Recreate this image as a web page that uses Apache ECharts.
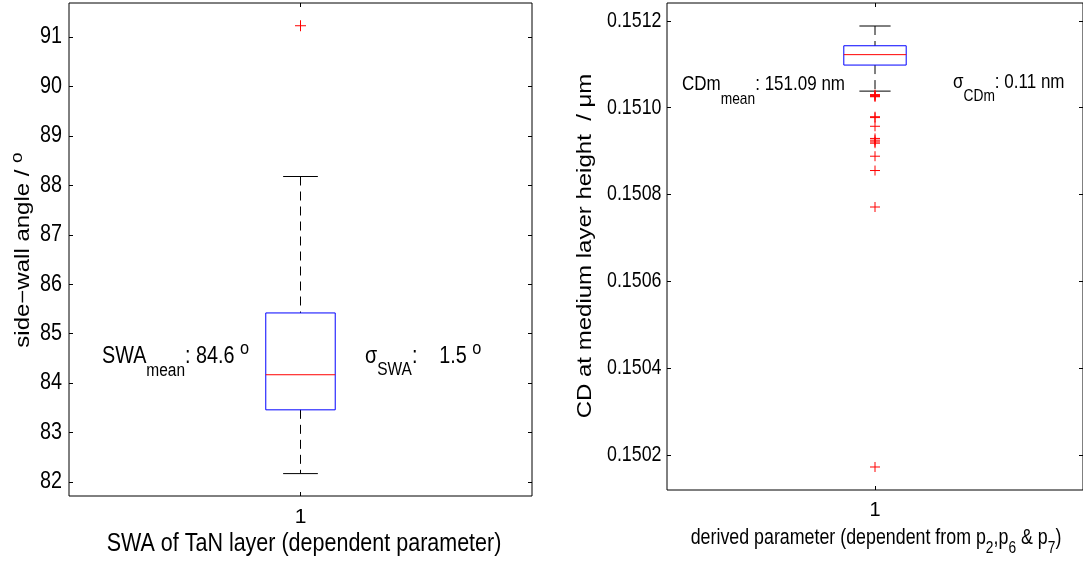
<!DOCTYPE html>
<html>
<head>
<meta charset="utf-8">
<script src="https://cdn.jsdelivr.net/npm/echarts@6/dist/echarts.min.js"></script>
<style>
  html, body { margin: 0; padding: 0; background: #fff; }
  #chart { width: 1083px; height: 565px; }
</style>
</head>
<body>
<div id="chart"></div>
<script>
// ---- Side-wall angle of the TaN layer (degrees) ----
const swaCategories = ['1'];
// lower whisker, Q1, median, Q3, upper whisker
const swaBox = [82.17, 83.46, 84.17, 85.42, 88.18];
const swaOutliers = [91.23];
const swaTicks = [82, 83, 84, 85, 86, 87, 88, 89, 90, 91];
const swaTickLabels = ['82', '83', '84', '85', '86', '87', '88', '89', '90', '91'];
const swaRange = [81.717, 91.69];

// ---- CD at medium layer height (µm) ----
const cdCategories = ['1'];
const cdBox = [0.151038, 0.151098, 0.151122, 0.1511425, 0.151188];
const cdOutliers = [0.151030, 0.151028, 0.151026, 0.151025, 0.150979, 0.150977,
                    0.150957, 0.150929, 0.150925, 0.150921, 0.150918, 0.150888,
                    0.150855, 0.150771, 0.150172];
const cdTicks = [0.1502, 0.1504, 0.1506, 0.1508, 0.1510, 0.1512];
const cdTickLabels = ['0.1502', '0.1504', '0.1506', '0.1508', '0.1510', '0.1512'];
const cdRange = [0.150119, 0.151241];

const FONT = '"Liberation Sans", Arial, sans-serif';
// horizontal squeeze of the lettering in each panel
const SQUEEZE_L = 0.86;
const SQUEEZE_R = 0.81;

const GRID_L = { left: 69, top: 3, width: 463, height: 493 };
const GRID_R = { left: 667, top: 3, width: 418, height: 487 };

const measureCtx = document.createElement('canvas').getContext('2d');
function textWidth(str, size) {
  measureCtx.font = size + 'px ' + FONT;
  return measureCtx.measureText(str).width;
}

// A line of text made of pieces with their own size and vertical offset
// (used for subscripts and raised degree marks).
function textLine(parts, x, y, opts) {
  opts = opts || {};
  let cursor = 0;
  const children = [];
  parts.forEach(function (p) {
    const t = p[0], size = p[1], dy = p[2] || 0;
    children.push({
      type: 'text', x: cursor, y: dy, silent: true,
      style: {
        text: t, fontSize: size, fontFamily: FONT, fill: '#000',
        align: 'left', verticalAlign: 'middle',
        textAlign: 'left', textVerticalAlign: 'middle'
      }
    });
    cursor += textWidth(t, size);
  });
  const shift = opts.align === 'center' ? -cursor / 2 : opts.align === 'right' ? -cursor : 0;
  children.forEach(function (c) { c.x += shift; });
  return {
    type: 'group', x: x, y: y,
    rotation: opts.rotation || 0,
    scaleX: opts.scaleX || 1, scaleY: opts.scaleY || 1,
    silent: true, children: children
  };
}

// Box with dashed whiskers, solid caps, blue box and red median line
function renderBox(params, api) {
  const x = api.value(0);
  const lo = api.coord([x, api.value(1)]);
  const q1 = api.coord([x, api.value(2)]);
  const md = api.coord([x, api.value(3)]);
  const q3 = api.coord([x, api.value(4)]);
  const hi = api.coord([x, api.value(5)]);
  const band = api.size([1, 0])[0];
  const bw = band * 0.15;
  const cw = bw / 2;
  const cx = lo[0];
  const dash = { stroke: '#000', lineWidth: 1, lineDash: [9, 6] };
  const solid = { stroke: '#000', lineWidth: 1 };
  return {
    type: 'group',
    children: [
      { type: 'line', shape: { x1: cx, y1: hi[1], x2: cx, y2: q3[1] }, style: dash },
      { type: 'line', shape: { x1: cx, y1: q1[1], x2: cx, y2: lo[1] }, style: dash },
      { type: 'line', shape: { x1: cx - cw / 2, y1: hi[1], x2: cx + cw / 2, y2: hi[1] }, style: solid },
      { type: 'line', shape: { x1: cx - cw / 2, y1: lo[1], x2: cx + cw / 2, y2: lo[1] }, style: solid },
      { type: 'rect', shape: { x: cx - bw / 2, y: q3[1], width: bw, height: q1[1] - q3[1] },
        style: { fill: 'none', stroke: '#0000ff', lineWidth: 1 } },
      { type: 'line', shape: { x1: cx - bw / 2, y1: md[1], x2: cx + bw / 2, y2: md[1] },
        style: { stroke: '#ff0000', lineWidth: 1 } }
    ]
  };
}

// Outliers drawn as red plus signs
function plusRenderer(size) {
  return function (params, api) {
    const p = api.coord([api.value(0), api.value(1)]);
    const h = size / 2;
    const st = { stroke: '#ff0000', lineWidth: 1 };
    return {
      type: 'group',
      children: [
        { type: 'line', shape: { x1: p[0] - h, y1: p[1], x2: p[0] + h, y2: p[1] }, style: st },
        { type: 'line', shape: { x1: p[0], y1: p[1] - h, x2: p[0], y2: p[1] + h }, style: st }
      ]
    };
  };
}

function catAxis(grid, data, position, labelSize, margin) {
  return {
    gridIndex: grid, type: 'category', data: data, position: position,
    axisLine: { show: false },
    axisTick: { show: true, inside: true, alignWithLabel: true, length: 4, lineStyle: { color: '#000' } },
    axisLabel: { show: position === 'bottom', margin: margin, fontSize: labelSize, fontFamily: FONT, color: '#000' },
    splitLine: { show: false }
  };
}

// Value axis: ticks at the listed values; its labels are drawn as squeezed text below
function valAxis(grid, range, ticks, position) {
  return {
    gridIndex: grid, type: 'value', position: position,
    min: range[0], max: range[1],
    axisLine: { show: false },
    splitLine: { show: false },
    axisTick: { show: true, inside: true, length: 4, customValues: ticks, lineStyle: { color: '#000' } },
    axisLabel: { show: false }
  };
}

const chart = echarts.init(document.getElementById('chart'), null, { renderer: 'canvas' });

chart.setOption({
  animation: false,
  backgroundColor: '#fff',
  grid: [
    Object.assign({ show: true, borderColor: '#000', borderWidth: 1, backgroundColor: '#fff' }, GRID_L),
    Object.assign({ show: true, borderColor: '#000', borderWidth: 1, backgroundColor: '#fff' }, GRID_R)
  ],
  xAxis: [
    catAxis(0, swaCategories, 'bottom', 21, 11),
    catAxis(0, swaCategories, 'top', 21, 11),
    catAxis(1, cdCategories, 'bottom', 20, 10),
    catAxis(1, cdCategories, 'top', 20, 10)
  ],
  yAxis: [
    valAxis(0, swaRange, swaTicks, 'left'),
    valAxis(0, swaRange, swaTicks, 'right'),
    valAxis(1, cdRange, cdTicks, 'left'),
    valAxis(1, cdRange, cdTicks, 'right')
  ],
  series: [
    { type: 'custom', xAxisIndex: 0, yAxisIndex: 0, renderItem: renderBox, silent: true,
      data: [[0].concat(swaBox)], encode: { x: 0, y: [1, 2, 3, 4, 5] } },
    { type: 'custom', xAxisIndex: 0, yAxisIndex: 0, renderItem: plusRenderer(11), silent: true,
      data: swaOutliers.map(function (v) { return [0, v]; }), encode: { x: 0, y: 1 } },
    { type: 'custom', xAxisIndex: 2, yAxisIndex: 2, renderItem: renderBox, silent: true,
      data: [[0].concat(cdBox)], encode: { x: 0, y: [1, 2, 3, 4, 5] } },
    { type: 'custom', xAxisIndex: 2, yAxisIndex: 2, renderItem: plusRenderer(10), silent: true,
      data: cdOutliers.map(function (v) { return [0, v]; }), encode: { x: 0, y: 1 } }
  ]
});

// Tick labels placed through each axis's own scale
const graphics = [];
swaTicks.forEach(function (v, i) {
  const y = chart.convertToPixel({ yAxisIndex: 0 }, v);
  graphics.push(textLine([[swaTickLabels[i], 23, 0]], GRID_L.left - 7, y, { align: 'right', scaleX: SQUEEZE_L }));
});
cdTicks.forEach(function (v, i) {
  const y = chart.convertToPixel({ yAxisIndex: 2 }, v);
  graphics.push(textLine([[cdTickLabels[i], 22, 0]], GRID_R.left - 5.5, y, { align: 'right', scaleX: SQUEEZE_R }));
});

graphics.push(
  // axis titles
  textLine([['side\u2212wall angle / ', 24, 0], ['o', 19, -8]], 24, 250,
    { align: 'center', rotation: Math.PI / 2, scaleY: SQUEEZE_L - 0.04 }),
  textLine([['SWA of TaN layer (dependent parameter)', 25, 0]], 304, 544,
    { align: 'center', scaleX: SQUEEZE_L }),
  textLine([['CD at medium layer height  / \u03bcm', 24, 0]], 586, 246,
    { align: 'center', rotation: Math.PI / 2, scaleY: SQUEEZE_R }),
  textLine([['derived parameter (dependent from p', 22, 0], ['2', 17, 10], [',p', 22, 0], ['6', 17, 10],
    [' & p', 22, 0], ['7', 17, 10], [')', 22, 0]], 876, 538,
    { align: 'center', scaleX: SQUEEZE_R }),
  // statistics annotations
  textLine([['SWA', 23, 0], ['mean', 18, 14], [': 84.6 ', 23, 0], ['o', 19, -8]], 102, 357,
    { scaleX: SQUEEZE_L }),
  textLine([['\u03c3', 23, 0], ['SWA', 18, 13], [':    1.5 ', 23, 0], ['o', 19, -8]], 365, 357,
    { scaleX: SQUEEZE_L }),
  textLine([['CDm', 21, 0], ['mean', 17, 15], [': 151.09 nm', 21, 0]], 682, 84,
    { scaleX: SQUEEZE_R }),
  textLine([['\u03c3', 21, 0], ['CDm', 17, 14], [': 0.11 nm', 21, 0]], 953, 82,
    { scaleX: SQUEEZE_R })
);

chart.setOption({ graphic: graphics });
</script>
</body>
</html>
